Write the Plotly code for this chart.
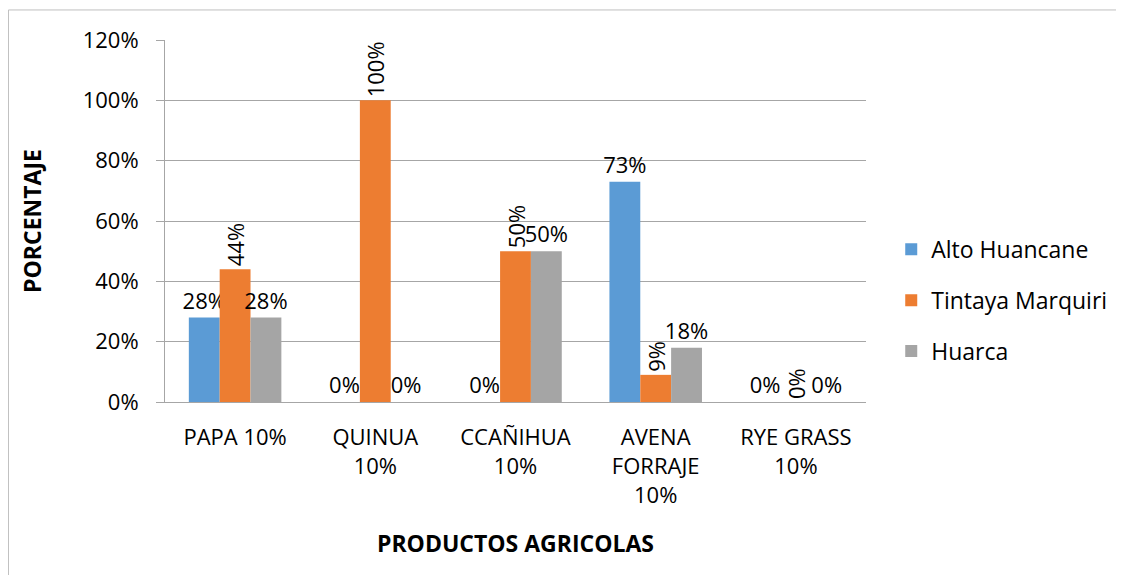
import plotly.graph_objects as go

categories = ["PAPA 10%", "QUINUA<br>10%", "CCAÑIHUA<br>10%", "AVENA<br>FORRAJE<br>10%", "RYE GRASS<br>10%"]
series_names = ["Alto Huancane", "Tintaya Marquiri", "Huarca"]
alto = [28, 0, 0, 73, 0]
tintaya = [44, 100, 50, 9, 0]
huarca = [28, 0, 50, 18, 0]
colors = ["#5B9BD5", "#ED7D31", "#A5A5A5"]
y_ticks = [0, 20, 40, 60, 80, 100, 120]

FONT = "Open Sans"
FS = 22
fig = go.Figure()
for i, (name, vals, col) in enumerate(zip(series_names, [alto, tintaya, huarca], colors)):
    fig.add_trace(go.Bar(
        x=categories, y=vals, name=name, marker_color=col, marker_line_width=0,
        text=[f"{v}%" for v in vals], textposition="outside",
        textangle=-90 if i == 1 else 0, constraintext="none", cliponaxis=False,
        textfont=dict(family=FONT, size=FS, color="#000"),
        outsidetextfont=dict(family=FONT, size=FS, color="#000"),
        legendgroup=name,
    ))

fig.update_layout(
    width=1108, height=567,
    margin=dict(l=157, r=250, t=32, b=173, autoexpand=False),
    paper_bgcolor="white", plot_bgcolor="white",
    barmode="group", bargap=0.34, bargroupgap=0,
    font=dict(family=FONT, size=FS, color="#000"),
    legend=dict(x=1.036, y=0.281, xanchor="left", yanchor="middle",
                font=dict(family=FONT, size=23, color="#000"),
                tracegroupgap=18, traceorder="grouped"),
    showlegend=True,
)
fig.update_yaxes(range=[0, 120], tickvals=y_ticks, ticktext=[f"{v}%" for v in y_ticks],
                 automargin=False,
                 showgrid=True, gridcolor="#A6A6A6", gridwidth=1,
                 showline=True, linecolor="#A6A6A6", linewidth=1,
                 ticks="outside", ticklen=8, tickcolor="#A6A6A6",
                 ticklabelstandoff=13, zeroline=False,
                 tickfont=dict(family=FONT, size=FS, color="#000"),
                 title=dict(text="<b>PORCENTAJE</b>", font=dict(family=FONT, size=23, color="#000"), standoff=34))
fig.update_xaxes(showline=True, linecolor="#A6A6A6", linewidth=1, ticks="",
                 automargin=False, ticklabelstandoff=16,
                 tickfont=dict(family=FONT, size=FS, color="#000"),
                 title=dict(text="<b>PRODUCTOS AGRICOLAS</b>", font=dict(family=FONT, size=23, color="#000"), standoff=28))

# chart-area outline (left and top edges only are visible in the reference)
fig.add_shape(type="line", xref="paper", yref="paper", x0=-0.2233, x1=-0.2233, y0=-0.5, y1=1.083,
              line=dict(color="#BFBFBF", width=1), layer="below")
fig.add_shape(type="line", xref="paper", yref="paper", x0=-0.2233, x1=1.4, y0=1.083, y1=1.083,
              line=dict(color="#BFBFBF", width=1), layer="below")

fig.write_html("out.html")
